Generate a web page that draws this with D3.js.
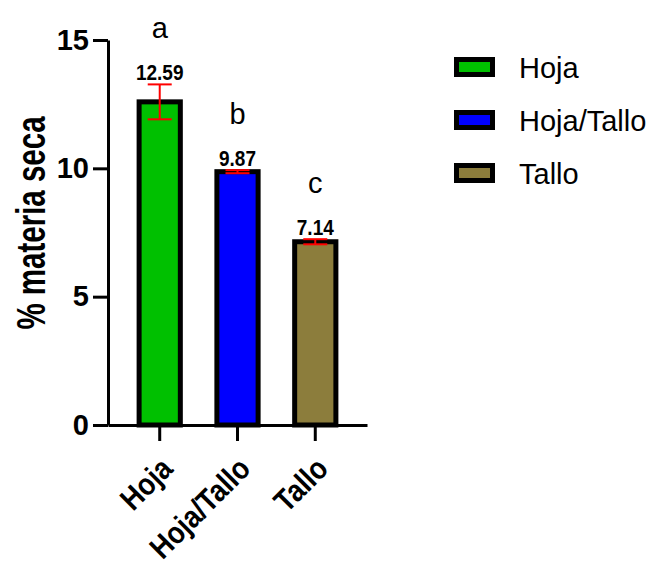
<!DOCTYPE html>
<html>
<head>
<meta charset="utf-8">
<script src="https://cdn.jsdelivr.net/npm/d3@7/dist/d3.min.js"></script>
<style>
  html, body { margin: 0; padding: 0; background: #fff; }
  svg { display: block; font-family: "Liberation Sans", Arial, sans-serif; }
</style>
</head>
<body>
<svg id="chart" width="656" height="562"></svg>
<script>
// Dry matter by plant fraction
const categories = ["Hoja", "Hoja/Tallo", "Tallo"];
const means = [12.59, 9.87, 7.14];
const errors = [0.68, 0.06, 0.10];
const valueLabels = ["12.59", "9.87", "7.14"];
const groupLetters = ["a", "b", "c"];
const colors = ["#00C000", "#0000FF", "#8C7D3C"];
const yTicks = [0, 5, 10, 15];

const svg = d3.select("#chart");

const y = d3.scaleLinear().domain([0, 15]).range([425, 40]);
const x = d3.scaleBand().domain(categories).range([108, 367])
  .paddingInner(0.47).paddingOuter(0.4);

// Y axis
const yAxis = svg.append("g")
  .attr("transform", "translate(108,0)")
  .call(d3.axisLeft(y).tickValues(yTicks).tickSize(15).tickSizeOuter(0).tickPadding(4));
yAxis.select(".domain").attr("stroke", "#000").attr("stroke-width", 3);
yAxis.selectAll(".tick line").attr("stroke", "#000").attr("stroke-width", 3);
yAxis.selectAll(".tick text")
  .attr("font-size", 29).attr("font-weight", "bold").attr("fill", "#000")
  .attr("font-family", "Liberation Sans, Arial, sans-serif");

// Bars
svg.append("g").selectAll("rect")
  .data(categories)
  .join("rect")
  .attr("x", d => x(d))
  .attr("width", x.bandwidth())
  .attr("y", (d, i) => y(means[i]))
  .attr("height", (d, i) => y(0) - y(means[i]))
  .attr("fill", (d, i) => colors[i])
  .attr("stroke", "#000")
  .attr("stroke-width", 5);

// X axis
const xAxis = svg.append("g")
  .attr("transform", `translate(0,${y(0)})`)
  .call(d3.axisBottom(x).tickSize(16).tickSizeOuter(0));
xAxis.select(".domain").attr("stroke", "#000").attr("stroke-width", 3);
xAxis.selectAll(".tick line").attr("stroke", "#000").attr("stroke-width", 3);
xAxis.selectAll(".tick text")
  .attr("font-size", 27).attr("font-weight", "bold").attr("fill", "#000")
  .attr("font-family", "Liberation Sans, Arial, sans-serif")
  .attr("text-anchor", "end")
  .attr("dy", "0.35em")
  .attr("y", 0)
  .attr("transform", "translate(7,38) rotate(-45) scale(1,1.15)");

// Error bars
const capHalf = 12;
const eb = svg.append("g").attr("stroke", "#FF0000").attr("stroke-width", 2);
categories.forEach((c, i) => {
  const cx = x(c) + x.bandwidth() / 2;
  const top = y(means[i] + errors[i]);
  const bot = y(means[i] - errors[i]);
  eb.append("line").attr("x1", cx).attr("x2", cx).attr("y1", top).attr("y2", bot);
  eb.append("line").attr("x1", cx - capHalf).attr("x2", cx + capHalf).attr("y1", top).attr("y2", top);
  eb.append("line").attr("x1", cx - capHalf).attr("x2", cx + capHalf).attr("y1", bot).attr("y2", bot);
});

// Value labels and group letters
categories.forEach((c, i) => {
  const cx = x(c) + x.bandwidth() / 2;
  const base = y(means[i] + errors[i]) - 4;
  svg.append("text")
    .attr("transform", `translate(${cx},${base}) scale(1,1.15)`)
    .attr("text-anchor", "middle")
    .attr("font-size", 19).attr("font-weight", "bold")
    .text(valueLabels[i]);
  svg.append("text")
    .attr("x", cx).attr("y", base - 42)
    .attr("text-anchor", "middle")
    .attr("font-size", 29)
    .text(groupLetters[i]);
});

// Y axis title
svg.append("text")
  .attr("transform", "translate(45,223) rotate(-90) scale(1,1.37)")
  .attr("text-anchor", "middle")
  .attr("font-size", 29.5).attr("font-weight", "bold")
  .text("% materia seca");

// Legend
const legend = svg.append("g");
categories.forEach((c, i) => {
  const cy = 67 + i * 53;
  legend.append("rect")
    .attr("x", 456.5).attr("y", cy - 7.5)
    .attr("width", 36).attr("height", 15)
    .attr("fill", colors[i]).attr("stroke", "#000").attr("stroke-width", 5);
  legend.append("text")
    .attr("x", 519).attr("y", cy + 11)
    .attr("font-size", 29)
    .text(c);
});
</script>
</body>
</html>
